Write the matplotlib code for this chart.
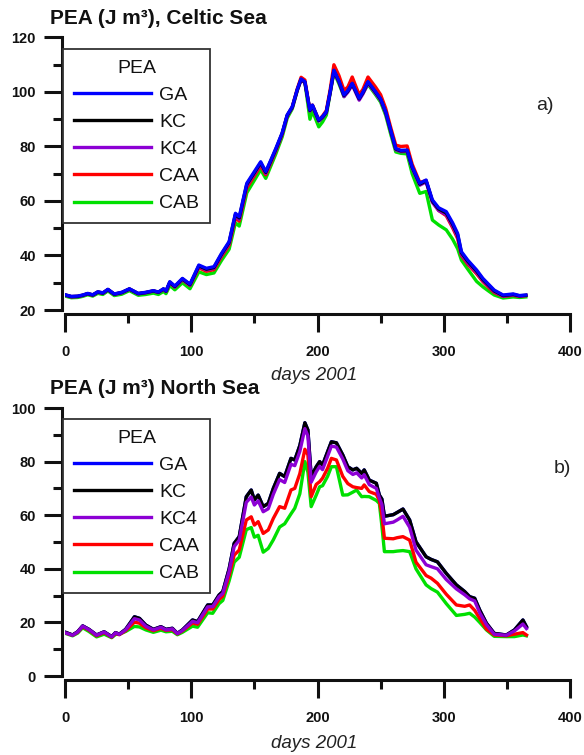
import matplotlib
matplotlib.use('Agg')
import matplotlib.pyplot as plt
from matplotlib.ticker import MultipleLocator

plt.rcParams.update({
    'font.family': ['Liberation Sans', 'DejaVu Sans'],
    'text.color': '#111111',
    'xtick.color': '#111111',
    'ytick.color': '#111111',
})

SERIES = ['GA', 'KC', 'KC4', 'CAA', 'CAB']
COLORS = {'GA': '#0000ff', 'KC': '#000000', 'KC4': '#8c00d4',
          'CAA': '#ff0000', 'CAB': '#00e000'}

# ---- Celtic Sea (panel a) ----
celtic_days = [1, 5, 10, 14, 18, 22, 26, 30, 34, 39,
               45, 51, 58, 64, 70, 74, 78, 80, 83, 87,
               93, 99, 106, 112, 118, 124, 130, 135, 138, 144,
               150, 155, 159, 163, 167, 172, 176, 180, 184, 187,
               190, 194, 196, 201, 204, 207, 210, 213, 217, 221,
               224, 227.5, 233, 236, 240, 246, 250, 254, 258, 262,
               266, 271, 275, 281, 286, 291, 296, 302, 307, 311,
               314, 319, 326, 331, 336, 340, 347, 355, 360, 365]
celtic_ga = [25.5, 25.0, 25.1, 25.5, 26.1, 25.6, 26.7, 26.3, 27.6, 25.9,
             26.5, 27.8, 26.1, 26.5, 27.1, 26.6, 27.8, 27.0, 30.4, 28.8,
             31.6, 29.5, 36.5, 35.3, 35.9, 40.8, 45.1, 55.5, 54.2, 66.5,
             70.8, 74.4, 70.8, 75.0, 79.3, 85.0, 91.6, 94.6, 101.0, 104.8,
             103.8, 93.4, 95.2, 89.7, 91.0, 92.8, 100.0, 108.0, 104.0, 98.9,
             100.5, 103.2, 97.7, 100.0, 103.8, 100.1, 97.5, 92.8, 86.0, 79.3,
             78.6, 78.7, 72.6, 66.5, 67.7, 60.4, 57.5, 56.1, 52.0, 48.1,
             41.4, 38.3, 34.7, 31.6, 29.2, 27.3, 25.5, 25.9, 25.3, 25.5]
celtic_kc = [25.4, 24.9, 25.0, 25.4, 26.0, 25.5, 26.6, 26.2, 27.5, 25.8,
             26.4, 27.7, 26.0, 26.4, 27.0, 26.5, 27.7, 26.9, 30.2, 28.6,
             31.4, 29.3, 36.2, 35.0, 35.6, 40.5, 44.8, 55.1, 53.8, 66.1,
             70.4, 74.0, 70.5, 74.7, 79.0, 84.8, 91.4, 94.4, 100.8, 104.6,
             103.6, 93.2, 95.0, 89.5, 90.8, 92.6, 99.8, 107.8, 103.8, 98.7,
             100.3, 103.0, 97.5, 99.8, 103.6, 99.9, 97.3, 92.6, 85.8, 79.1,
             78.4, 78.5, 72.4, 66.2, 67.4, 60.0, 57.1, 55.6, 51.5, 47.6,
             41.0, 37.9, 34.3, 31.2, 28.9, 27.0, 25.3, 25.7, 25.2, 25.4]
celtic_kc4 = [25.3, 24.8, 24.9, 25.3, 25.9, 25.4, 26.5, 26.1, 27.4, 25.7,
              26.3, 27.6, 25.9, 26.3, 26.9, 26.4, 27.6, 26.8, 30.0, 28.4,
              31.2, 29.1, 35.9, 34.7, 35.3, 40.1, 44.4, 54.6, 53.3, 65.6,
              70.0, 73.6, 70.1, 74.4, 78.7, 84.6, 91.2, 94.2, 100.6, 104.4,
              103.4, 93.0, 94.8, 89.3, 90.6, 92.4, 99.6, 107.6, 103.6, 98.3,
              99.9, 102.6, 97.0, 99.3, 103.2, 99.5, 96.9, 92.2, 85.4, 78.8,
              78.1, 78.2, 72.0, 65.8, 67.0, 59.5, 56.5, 55.0, 50.8, 46.9,
              40.4, 37.3, 33.8, 30.8, 28.5, 26.7, 25.1, 25.5, 25.1, 25.3]
celtic_caa = [25.4, 24.9, 25.0, 25.4, 26.0, 25.5, 26.6, 26.2, 27.5, 25.8,
              26.4, 27.7, 26.0, 26.4, 27.0, 26.5, 27.6, 26.8, 30.0, 28.4,
              31.1, 29.0, 35.5, 34.2, 34.8, 39.6, 43.8, 53.8, 52.6, 64.8,
              69.3, 73.0, 69.6, 74.0, 78.4, 84.4, 91.2, 94.5, 101.2, 105.4,
              104.4, 93.2, 95.2, 89.7, 91.2, 93.2, 100.8, 110.0, 106.0, 100.6,
              101.8, 105.5, 99.0, 101.0, 105.5, 101.8, 99.0, 94.0, 87.0, 80.5,
              80.0, 80.2, 73.5, 66.8, 67.5, 59.8, 56.5, 54.6, 50.2, 46.2,
              40.0, 36.8, 33.3, 30.4, 28.1, 26.4, 25.0, 25.4, 25.0, 25.3]
celtic_cab = [25.0, 24.5, 24.6, 25.0, 25.6, 25.1, 26.1, 25.7, 27.0, 25.3,
              25.8, 27.1, 25.4, 25.7, 26.2, 25.7, 26.8, 26.0, 29.0, 27.4,
              30.0, 27.8, 34.0, 33.0, 33.6, 38.2, 42.3, 52.0, 50.8, 63.0,
              67.6, 71.5, 68.3, 72.8, 77.3, 83.5, 90.4, 93.8, 100.6, 104.8,
              103.6, 90.0, 93.0, 87.2, 89.0, 91.5, 99.5, 107.2, 103.0, 98.3,
              101.0, 104.8, 98.0, 99.6, 102.8, 99.0, 96.3, 91.5, 84.5, 78.0,
              77.5, 77.3, 70.0, 62.8, 63.5, 53.0, 51.2, 49.4, 46.0, 42.5,
              38.3, 35.0, 30.5, 28.5, 26.8, 25.5, 24.4, 24.8, 24.6, 24.8]

# ---- North Sea (panel b) ----
north_days = [1, 6, 10, 14, 19, 25, 31, 37, 40, 43,
              48, 55, 59, 64, 70, 76, 80, 85, 89, 93,
              101, 105, 113, 117, 122, 125, 130, 134, 138, 143.6,
              147.5, 150, 153, 157, 161, 165, 170, 174, 179, 182,
              186, 190, 192.4, 195, 199, 201.7, 204, 208, 211, 215,
              220, 224, 228, 231, 235, 237, 241, 246.6, 249, 251,
              253, 260, 263, 267.7, 273, 278, 286, 290, 295, 302,
              310, 316.6, 320.5, 324.5, 328.5, 333.8, 340, 349.6, 356, 362.7,
              365.5]
north_kc = [16.2, 15.3, 16.5, 18.7, 17.4, 15.3, 16.5, 14.7, 16.2, 15.6,
            17.4, 22.1, 21.5, 19.0, 17.4, 18.4, 17.4, 17.8, 15.9, 17.2,
            20.9, 20.3, 26.5, 26.5, 30.2, 31.5, 40.0, 49.5, 52.0, 66.9,
            69.4, 65.7, 67.5, 63.2, 64.4, 70.0, 75.6, 74.4, 81.2, 80.6,
            86.0, 94.5, 91.8, 74.4, 78.1, 80.0, 78.7, 83.7, 87.4, 87.0,
            82.5, 78.1, 76.9, 77.5, 75.6, 76.9, 73.1, 71.9, 67.5, 66.0,
            59.6, 60.2, 61.0, 62.3, 58.2, 50.1, 44.5, 43.5, 42.6, 38.3,
            34.0, 31.5, 29.6, 29.0, 24.6, 19.7, 15.9, 15.3, 17.2, 20.9,
            18.4]
# GA sits under KC in this panel (no blue is visible)
north_ga = list(north_kc)
north_kc4 = [16.0, 15.2, 16.4, 18.6, 17.3, 15.2, 16.4, 14.6, 16.1, 15.5,
             17.2, 21.4, 20.9, 18.6, 17.2, 18.2, 17.2, 17.6, 15.8, 17.0,
             20.4, 19.9, 25.8, 25.9, 29.6, 30.8, 39.0, 48.3, 50.7, 64.8,
             66.8, 63.8, 65.4, 61.3, 62.4, 67.8, 73.3, 72.2, 79.0, 78.5,
             83.8, 92.3, 89.6, 72.3, 76.2, 78.2, 77.0, 82.0, 85.8, 85.4,
             81.0, 76.6, 75.2, 75.8, 73.9, 75.1, 71.4, 70.0, 66.5, 64.0,
             56.8, 57.4, 58.2, 59.6, 55.5, 47.0, 41.5, 40.8, 40.0, 36.0,
             32.5, 30.3, 28.8, 28.0, 23.6, 19.2, 15.6, 15.2, 16.8, 19.4,
             17.7]
north_caa = [16.0, 15.2, 16.3, 18.4, 17.1, 15.0, 16.2, 14.5, 15.9, 15.4,
             16.9, 20.1, 19.7, 18.0, 16.9, 17.8, 17.0, 17.3, 15.7, 16.8,
             19.8, 19.3, 25.0, 25.0, 28.5, 29.8, 37.5, 45.1, 47.0, 58.2,
             59.4, 56.3, 57.6, 53.2, 54.5, 58.8, 63.2, 62.6, 69.4, 70.0,
             75.5, 84.6, 82.5, 66.9, 71.5, 72.5, 73.8, 77.5, 81.2, 80.6,
             74.5, 71.8, 70.6, 70.3, 70.0, 71.3, 68.8, 67.8, 65.5, 60.0,
             51.4, 51.2, 51.6, 52.0, 50.7, 42.5, 37.5, 36.5, 34.6, 30.5,
             26.5, 26.0, 26.5, 24.5, 21.5, 17.5, 15.3, 15.0, 15.6, 16.2,
             15.3]
north_cab = [15.8, 15.0, 16.0, 18.0, 16.6, 14.6, 15.6, 14.3, 15.5, 15.6,
             16.6, 18.5, 18.3, 17.2, 16.3, 17.1, 16.5, 16.7, 15.4, 16.3,
             18.6, 18.2, 23.6, 23.4, 27.0, 28.2, 35.5, 42.5, 44.3, 54.6,
             55.4, 51.8, 52.5, 46.2, 47.6, 50.8, 55.6, 56.8, 60.5, 62.6,
             68.0, 80.0, 76.0, 63.2, 67.5, 70.6, 71.0, 74.5, 78.1, 78.1,
             67.5, 67.6, 68.6, 69.4, 66.9, 67.0, 66.9, 65.5, 64.4, 56.0,
             46.4, 46.4, 46.6, 46.8, 46.4, 40.0, 34.0, 32.6, 31.3, 27.0,
             22.6, 23.0, 23.4, 22.0, 20.0, 17.2, 14.8, 14.7, 14.7, 15.3,
             15.0]

W, H = 584, 755


def style_axes(ax, ymin, ymax):
    ax.set_xlim(0, 400)
    ax.set_ylim(ymin, ymax)
    ax.xaxis.set_major_locator(MultipleLocator(100))
    ax.xaxis.set_minor_locator(MultipleLocator(50))
    ax.yaxis.set_major_locator(MultipleLocator(20))
    ax.yaxis.set_minor_locator(MultipleLocator(10))
    for side in ['top', 'right']:
        ax.spines[side].set_visible(False)
    ax.spines['left'].set_position(('outward', 2.5))
    ax.spines['bottom'].set_position(('outward', 3))
    for side in ['left', 'bottom']:
        ax.spines[side].set_linewidth(2.2)
        ax.spines[side].set_color('#111111')
    ax.tick_params(which='major', length=13, width=2.2, labelsize=10.5)
    ax.tick_params(which='minor', length=6.5, width=2.2)
    ax.tick_params(axis='x', which='major', pad=9)
    ax.tick_params(axis='y', which='major', pad=5.5)
    for lbl in ax.get_xticklabels() + ax.get_yticklabels():
        lbl.set_fontweight('bold')


def add_legend(ax, handles, top):
    leg = ax.legend(handles, SERIES, title='PEA', loc='upper left',
                    bbox_to_anchor=(-0.004, top), borderaxespad=0,
                    fontsize=14, title_fontsize=14, handlelength=4.0,
                    handletextpad=0.4, labelspacing=0.49, borderpad=0.55,
                    fancybox=False, framealpha=1, edgecolor='#333333')
    leg.get_frame().set_linewidth(1.3)
    for line in leg.get_lines():
        line.set_linewidth(2.4)


fig = plt.figure(figsize=(W / 100, H / 100), dpi=100)
ax_a = fig.add_axes([65 / W, 1 - 310 / H, 505 / W, 272.5 / H])
ax_b = fig.add_axes([65 / W, 1 - 676 / H, 505 / W, 268 / H])

# panel a: blue GA drawn on top
celtic = {'GA': celtic_ga, 'KC': celtic_kc, 'KC4': celtic_kc4,
          'CAA': celtic_caa, 'CAB': celtic_cab}
lines_a = {}
for name in ['CAB', 'CAA', 'KC4', 'KC', 'GA']:
    lines_a[name], = ax_a.plot(celtic_days, celtic[name], color=COLORS[name], lw=2.4)
style_axes(ax_a, 20, 120)
add_legend(ax_a, [lines_a[s] for s in SERIES], 0.958)
ax_a.text(0.95, 0.752, 'a)', transform=ax_a.transAxes, ha='center', va='center',
          fontsize=14, color='#222222')

# panel b: GA hidden below KC
north = {'GA': north_ga, 'KC': north_kc, 'KC4': north_kc4,
         'CAA': north_caa, 'CAB': north_cab}
lines_b = {}
for name in ['GA', 'CAB', 'CAA', 'KC', 'KC4']:
    lines_b[name], = ax_b.plot(north_days, north[name], color=COLORS[name], lw=2.4)
style_axes(ax_b, 0, 100)
add_legend(ax_b, [lines_b[s] for s in SERIES], 0.959)
ax_b.text(0.984, 0.776, 'b)', transform=ax_b.transAxes, ha='center', va='center',
          fontsize=14, color='#222222')

fig.text(50 / W, 1 - 18 / H, 'PEA (J m\u00b3), Celtic Sea', ha='left', va='center',
         fontsize=15, fontweight='bold')
fig.text(50 / W, 1 - 388 / H, 'PEA (J m\u00b3) North Sea', ha='left', va='center',
         fontsize=15, fontweight='bold')
fig.text(314 / W, 1 - 375 / H, 'days 2001', ha='center', va='center',
         fontsize=13.5, style='italic', color='#222222')
fig.text(314 / W, 1 - 743 / H, 'days 2001', ha='center', va='center',
         fontsize=13.5, style='italic', color='#222222')

fig.savefig('out.png', dpi=100, facecolor='white')
